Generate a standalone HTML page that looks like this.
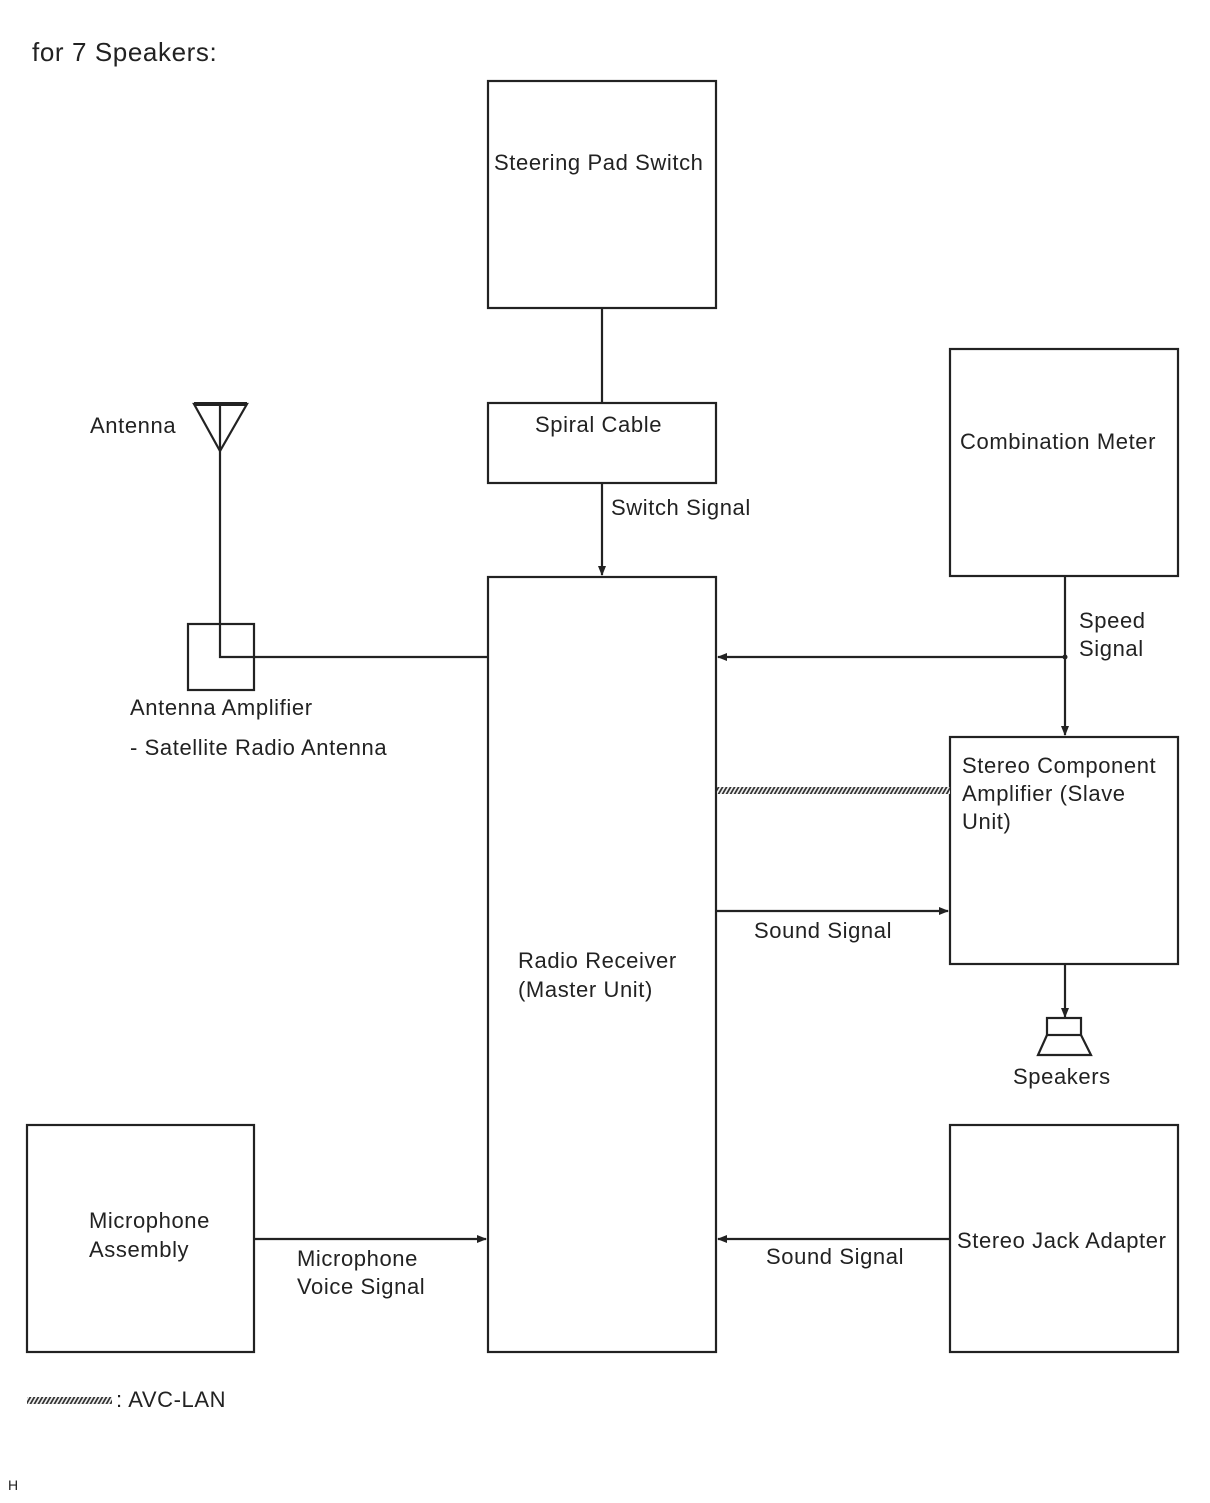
<!DOCTYPE html>
<html><head><style>
body{margin:0;background:#fff;}
svg text{font-family:"Liberation Sans",Arial,sans-serif;font-size:22px;letter-spacing:0.6px;fill:#222;}
</style></head><body>
<svg width="1210" height="1498" viewBox="0 0 1210 1498" xmlns="http://www.w3.org/2000/svg">
<defs>
<marker id="a" markerWidth="10" markerHeight="10" refX="9" refY="5" orient="auto" markerUnits="userSpaceOnUse"><path d="M0,1 L10,5 L0,9 z" fill="#222"/></marker>
<pattern id="h" width="4" height="6" patternUnits="userSpaceOnUse" patternTransform="skewX(-30)"><rect width="4" height="6" fill="#eee"/><rect width="2" height="6" fill="#333"/></pattern>
</defs>
<g fill="none" stroke="#222" stroke-width="2.2">
<rect x="488" y="81" width="228" height="227"/>
<rect x="488" y="403" width="228" height="80"/>
<rect x="488" y="577" width="228" height="775"/>
<rect x="950" y="349" width="228" height="227"/>
<rect x="950" y="737" width="228" height="227"/>
<rect x="950" y="1125" width="228" height="227"/>
<rect x="27" y="1125" width="227" height="227"/>
<rect x="188" y="624" width="66" height="66"/>
<path d="M194,404 L247,404 L220,451 Z"/>
<line x1="194" y1="404" x2="247" y2="404" stroke-width="4"/>
<path d="M220,404 L220,657 L488,657"/>
<line x1="602" y1="308" x2="602" y2="403"/>
<line x1="602" y1="483" x2="602" y2="575" marker-end="url(#a)"/>
<line x1="1065" y1="576" x2="1065" y2="735" marker-end="url(#a)"/>
<line x1="1065" y1="657" x2="718" y2="657" marker-end="url(#a)"/>
<line x1="716" y1="911" x2="948" y2="911" marker-end="url(#a)"/>
<line x1="1065" y1="964" x2="1065" y2="1017" marker-end="url(#a)"/>
<rect x="1047" y="1018" width="34" height="17"/>
<path d="M1047,1035 L1038,1055 L1091,1055 L1081,1035"/>
<line x1="950" y1="1239" x2="718" y2="1239" marker-end="url(#a)"/>
<line x1="254" y1="1239" x2="486" y2="1239" marker-end="url(#a)"/>
</g>
<circle cx="1065" cy="657" r="2.5" fill="#222"/>
<rect x="717" y="787" width="233" height="7" fill="url(#h)"/>
<rect x="27" y="1397" width="85" height="7" fill="url(#h)"/>
<text x="32" y="61" style="font-size:26px">for 7 Speakers:</text>
<text x="494" y="170">Steering Pad Switch</text>
<text x="535" y="432">Spiral Cable</text>
<text x="611" y="515">Switch Signal</text>
<text x="90" y="433">Antenna</text>
<text x="960" y="449">Combination Meter</text>
<text x="1079" y="628">Speed</text>
<text x="1079" y="656">Signal</text>
<text x="130" y="715">Antenna Amplifier</text>
<text x="130" y="755">- Satellite Radio Antenna</text>
<text x="962" y="773">Stereo Component</text>
<text x="962" y="801">Amplifier (Slave</text>
<text x="962" y="829">Unit)</text>
<text x="754" y="938">Sound Signal</text>
<text x="518" y="968">Radio Receiver</text>
<text x="518" y="997">(Master Unit)</text>
<text x="1013" y="1084">Speakers</text>
<text x="89" y="1228">Microphone</text>
<text x="89" y="1257">Assembly</text>
<text x="957" y="1248">Stereo Jack Adapter</text>
<text x="297" y="1266">Microphone</text>
<text x="297" y="1294">Voice Signal</text>
<text x="766" y="1264">Sound Signal</text>
<text x="116" y="1407">: AVC-LAN</text>
<text x="8" y="1490" style="font-size:14px;letter-spacing:0">H</text>
</svg>
</body></html>
